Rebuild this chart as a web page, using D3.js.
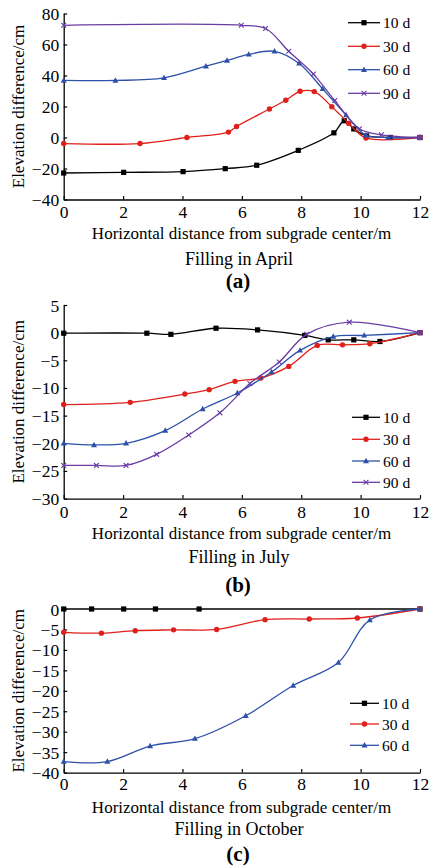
<!DOCTYPE html>
<html><head><meta charset="utf-8">
<script src="https://cdn.jsdelivr.net/npm/d3@7"></script>
<style>html,body{margin:0;padding:0;background:#fff;}svg{display:block;}</style>
</head><body>
<svg id="chart" width="429" height="866"></svg>
<script>
// ---------- data ----------
const seriesNames = ["10 d", "30 d", "60 d", "90 d"];
const xTicks = [0, 2, 4, 6, 8, 10, 12];

// Panel (a) Filling in April
const aX10 = [0, 2.02, 4.02, 5.44, 6.5, 7.9, 9.1, 9.45, 9.77, 10.2, 11, 12];
const aY10 = [-22.9, -22.5, -22, -20.1, -17.9, -8.3, 3.0, 10.8, 5.5, 1, 0, 0];
const aX30 = [0, 2.57, 4.15, 5.55, 5.82, 6.93, 7.48, 7.96, 8.44, 9.03, 9.6, 10.18, 12];
const aY30 = [-3.9, -3.9, 0, 3.5, 7.1, 18.4, 24, 29.8, 29.6, 19.9, 9.1, -0.3, 0];
const aX60 = [0, 1.74, 3.38, 4.79, 5.5, 6.23, 7.1, 7.93, 8.72, 9.51, 10.18, 10.93, 12];
const aY60 = [36.8, 36.8, 38.5, 46, 49.7, 53.6, 55.6, 47.8, 31.4, 14.5, 1.5, 0, 0];
const aX90 = [0, 5.98, 6.8, 7.58, 8.41, 9.13, 9.96, 10.7, 12];
const aY90 = [72.4, 72.4, 70.3, 55.6, 40.9, 23.8, 5.6, 1.7, 0];
const aYTicks = [-40, -20, 0, 20, 40, 60, 80];

// Panel (b) Filling in July
const bX10 = [0, 2.8, 3.61, 5.13, 6.53, 8.12, 8.91, 9.77, 10.65, 12];
const bY10 = [-0.1, -0.1, -0.3, 0.8, 0.5, -0.5, -1.3, -1.3, -1.6, 0];
const bX30 = [0, 2.24, 4.08, 4.9, 5.77, 6.64, 7.58, 8.54, 9.39, 10.31, 12];
const bY30 = [-13, -12.6, -11.1, -10.3, -8.8, -8.2, -6.1, -2.3, -2.2, -2.0, 0];
const bX60 = [0, 1.02, 2.1, 3.42, 4.68, 5.85, 7.0, 7.96, 9.08, 10.12, 12];
const bY60 = [-20, -20.3, -20, -17.7, -13.8, -10.9, -7.1, -3.2, -0.7, -0.5, 0];
const bX90 = [0, 1.1, 2.1, 3.13, 4.21, 5.26, 6.27, 7.26, 8.18, 9.62, 12];
const bY90 = [-24, -24, -24, -22, -18.5, -14.5, -9.2, -5.3, -0.3, 1.9, 0];
const bYTicks = [-30, -25, -20, -15, -10, -5, 0, 5];

// Panel (c) Filling in October
const cX10 = [0, 0.94, 2.02, 3.09, 4.56, 12];
const cY10 = [0, 0, 0, 0, 0, 0];
const cX30 = [0, 1.27, 2.41, 3.7, 5.15, 6.78, 8.27, 9.89, 12];
const cY30 = [-5.7, -5.9, -5.3, -5.1, -5.0, -2.6, -2.45, -2.2, 0];
const cX60 = [0, 1.47, 2.91, 4.42, 6.13, 7.73, 9.25, 10.31, 12];
const cY60 = [-37.3, -37.3, -33.5, -31.7, -26.1, -18.7, -13.1, -2.7, 0];
const cYTicks = [-40, -35, -30, -25, -20, -15, -10, -5, 0];

const xTitle = "Horizontal distance from subgrade center/m";
const yTitle = "Elevation difference/cm";
const captions = ["Filling in April", "Filling in July", "Filling in October"];
const labels = ["(a)", "(b)", "(c)"];

// ---------- styles / layout ----------
const colors = ["#000000", "#e0201b", "#2d50a8", "#6a3ca3"];
const markers = ["square", "circle", "triangle", "cross"];
const FONT = "'Liberation Serif','Times New Roman',serif";

const panels = [
  { top: 13.5, bottom: 199.5, yTicks: aYTicks,
    series: [[aX10, aY10], [aX30, aY30], [aX60, aY60], [aX90, aY90]],
    legY: [22.7, 46.3, 69.7, 93.3], legX0: 348, legX1: 380,
    tickY: 212, titleY: 233, capY: 258.5, labY: 281 },
  { top: 305, bottom: 498.6, yTicks: bYTicks,
    series: [[bX10, bY10], [bX30, bY30], [bX60, bY60], [bX90, bY90]],
    legY: [417.3, 439.3, 461, 482.3], legX0: 352, legX1: 380,
    tickY: 512, titleY: 533, capY: 557, labY: 585 },
  { top: 609, bottom: 772.6, yTicks: cYTicks,
    series: [[cX10, cY10], [cX30, cY30], [cX60, cY60]],
    legY: [703.3, 724, 745.3], legX0: 350, legX1: 379,
    tickY: 783.5, titleY: 807, capY: 828.5, labY: 853.5 }
];

const svg = d3.select("#chart");
const x = d3.scaleLinear().domain([0, 12]).range([63.7, 420]);

function drawMarker(g, type, cx, cy, color) {
  if (type === "square") {
    g.append("rect").attr("x", cx - 2.6).attr("y", cy - 2.6).attr("width", 5.2).attr("height", 5.2).attr("fill", color);
  } else if (type === "circle") {
    g.append("circle").attr("cx", cx).attr("cy", cy).attr("r", 2.7).attr("fill", color);
  } else if (type === "triangle") {
    g.append("path").attr("d", `M${cx},${cy - 3.2}L${cx + 3},${cy + 2.2}L${cx - 3},${cy + 2.2}Z`).attr("fill", color);
  } else {
    const s = 2.4;
    g.append("path").attr("d", `M${cx - s},${cy - s}L${cx + s},${cy + s}M${cx - s},${cy + s}L${cx + s},${cy - s}`)
      .attr("stroke", color).attr("stroke-width", 1.1).attr("fill", "none");
  }
}

panels.forEach((p, pi) => {
  const yd = d3.extent(p.yTicks);
  const y = d3.scaleLinear().domain(yd).range([p.bottom, p.top]);
  const g = svg.append("g");

  // axes
  const xAxis = d3.axisBottom(x).tickValues(xTicks).tickSizeInner(-3.5).tickSizeOuter(0).tickPadding(6).tickFormat(d3.format("d"));
  const gx = g.append("g").attr("transform", `translate(0,${p.bottom})`).call(xAxis);
  gx.select(".domain").attr("stroke", "#000").attr("stroke-width", 1.3);
  gx.selectAll(".tick line").attr("stroke", "#000").attr("stroke-width", 1.2);
  gx.selectAll(".tick text").attr("font-family", FONT).attr("font-size", 17.5).attr("fill", "#000")
    .attr("y", null).attr("dy", null).attr("dominant-baseline", "central")
    .attr("transform", `translate(0,${p.tickY - p.bottom})`);

  const yAxis = d3.axisLeft(y).tickValues(p.yTicks).tickSizeInner(-3.5).tickSizeOuter(0).tickPadding(0).tickFormat(d3.format("d"));
  const gy = g.append("g").attr("transform", `translate(${x(0)},0)`).call(yAxis);
  gy.select(".domain").attr("stroke", "#000").attr("stroke-width", 1.3);
  gy.selectAll(".tick line").attr("stroke", "#000").attr("stroke-width", 1.2);
  gy.selectAll(".tick text").attr("font-family", FONT).attr("font-size", 17.5).attr("fill", "#000")
    .attr("x", -4.5).attr("dy", null).attr("dominant-baseline", "central").attr("text-anchor", "end");

  // series
  p.series.forEach((s, si) => {
    const pts = s[0].map((xv, i) => [xv, s[1][i]]);
    const line = d3.line().x(d => x(d[0])).y(d => y(d[1])).curve(d3.curveCatmullRom.alpha(0.5));
    g.append("path").datum(pts).attr("d", line).attr("fill", "none")
      .attr("stroke", colors[si]).attr("stroke-width", 1.3);
    const mg = g.append("g");
    pts.forEach(d => drawMarker(mg, markers[si], x(d[0]), y(d[1]), colors[si]));
  });

  // legend
  p.series.forEach((s, si) => {
    const ly = p.legY[si];
    g.append("line").attr("x1", p.legX0).attr("x2", p.legX1).attr("y1", ly).attr("y2", ly)
      .attr("stroke", colors[si]).attr("stroke-width", 1.3);
    drawMarker(g, markers[si], (p.legX0 + p.legX1) / 2, ly, colors[si]);
    g.append("text").attr("x", p.legX1 + 3).attr("y", ly).attr("dominant-baseline", "central")
      .attr("font-family", FONT).attr("font-size", 15.5).attr("fill", "#000").text(seriesNames[si]);
  });

  // titles
  g.append("text").attr("transform", `translate(18,${(p.top + p.bottom) / 2}) rotate(-90)`)
    .attr("text-anchor", "middle").attr("dominant-baseline", "central")
    .attr("font-family", FONT).attr("font-size", 17).attr("fill", "#000").text(yTitle);
  g.append("text").attr("x", 241.5).attr("y", p.titleY).attr("text-anchor", "middle").attr("dominant-baseline", "central")
    .attr("font-family", FONT).attr("font-size", 17).attr("fill", "#000").text(xTitle);
  g.append("text").attr("x", 239).attr("y", p.capY).attr("text-anchor", "middle").attr("dominant-baseline", "central")
    .attr("font-family", FONT).attr("font-size", 18).attr("fill", "#000").text(captions[pi]);
  g.append("text").attr("x", 238).attr("y", p.labY).attr("text-anchor", "middle").attr("dominant-baseline", "central")
    .attr("font-family", FONT).attr("font-size", 21).attr("font-weight", "bold").attr("fill", "#000").text(labels[pi]);
});
</script>
</body></html>
